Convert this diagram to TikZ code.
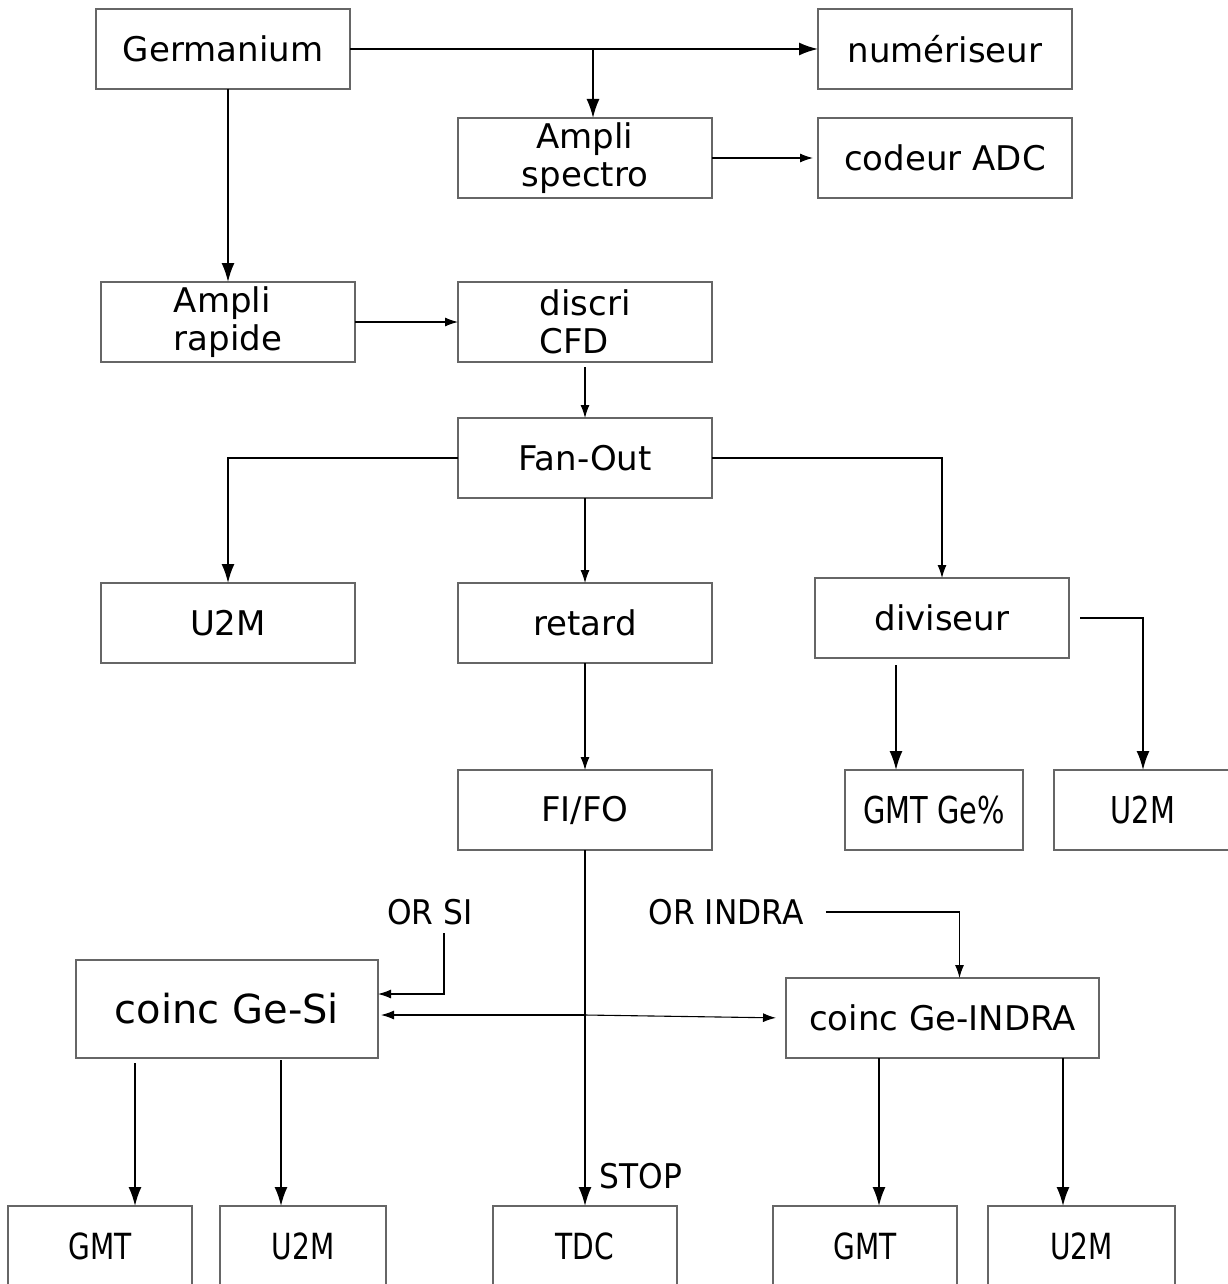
\documentclass[tikz,border=0pt]{standalone}
\usepackage{fontspec}
\setmainfont{DejaVu Sans}
\newfontfamily\condfont{DejaVu Sans}[FakeStretch=0.92]
\newfontfamily\narrowfont{DejaVu Sans}[FakeStretch=0.78]
\usetikzlibrary{arrows.meta,calc}

\begin{document}
\begin{tikzpicture}[x=0.5pt,y=-0.5pt,
  bloc/.style={draw=black!60,line width=0.8pt,inner sep=0pt,outer sep=0pt,minimum width=127pt,minimum height=40pt,font=\fontsize{17}{19}\selectfont},
  bas/.style={bloc,font=\narrowfont\fontsize{18}{20}\selectfont},
  lbl/.style={inner sep=0pt,font=\condfont\fontsize{17}{19}\selectfont},
  fil/.style={line width=0.55pt,-{Latex[length=6.5pt,width=4.5pt]}},
  gros/.style={line width=0.9pt,-{Latex[length=9.5pt,width=6.5pt]}}]
\useasboundingbox (0,0) rectangle (1227,1284);
% chaine germanium
\node[bloc] (germ) at (223,49) {Germanium};
\node[bloc] (numer) at (945,49) {numériseur};
\node[bloc,align=center] (spectro) at (585,158) {Ampli\\spectro};
\node[bloc] (adc) at (945,158) {codeur ADC};
\node[bloc,align=left] (rapide) at (228,322) {Ampli\\rapide};
\node[bloc,align=left] (cfd) at (585,322) {discri\\CFD};
\node[bloc] (fanout) at (585,458) {Fan-Out};
\node[bloc] (u2ma) at (228,623) {U2M};
\node[bloc] (retard) at (585,623) {retard};
\node[bloc] (divis) at (942,618) {diviseur};
\node[bloc] (fifo) at (585,810) {FI/FO};
\node[bas,minimum width=89pt,font=\narrowfont\fontsize{18.5}{20}\selectfont] (gmtge) at (934,810) {GMT Ge\%};
\node[bas,minimum width=89pt,font=\narrowfont\fontsize{18.5}{20}\selectfont] (u2mb) at (1143,810) {U2M};
% coincidences
\node[lbl] (orsi) at (430,912) {OR SI};
\node[lbl] (orin) at (726,912) {OR INDRA};
\node[bloc,minimum width=151pt,minimum height=49pt,font=\fontsize{20}{22}\selectfont] (coincsi) at (227,1009) {coinc Ge-Si};
\node[bloc,minimum width=156.5pt] (coincin) at (942.5,1018) {coinc Ge-INDRA};
\node[lbl] (stop) at (641,1176) {STOP};
\node[bas,minimum width=92pt] (gmta) at (100,1246) {GMT};
\node[bas,minimum width=83pt] (u2mc) at (303,1246) {U2M};
\node[bas,minimum width=92pt] (tdc) at (585,1246) {TDC};
\node[bas,minimum width=92pt] (gmtb) at (865,1246) {GMT};
\node[bas,minimum width=93.5pt] (u2md) at (1081.5,1246) {U2M};
\coordinate (split) at (585,1015);
% liaisons
\draw[gros] (germ.east) -- (numer.west);
\draw[gros] ([xshift=4pt]spectro.north |- germ.east) -- ([xshift=4pt]spectro.north);
\draw[gros] (rapide.north |- germ.south) -- (rapide.north);
\draw[fil,shorten >=2.5pt] (spectro.east) -- (adc.west);
\draw[fil] (rapide.east) -- (cfd.west);
\draw[fil,shorten <=2.5pt] (cfd.south) -- (fanout.north);
\draw[gros] (fanout.west) -| (u2ma.north);
\draw[fil] (fanout.south) -- (retard.north);
\draw[fil] (fanout.east) -| (divis.north);
\draw[gros,shorten <=5.5pt] (divis.east) -| (u2mb.north);
\draw[gros,shorten <=3.5pt] ($(divis.south)+(-46,0)$) -- ($(gmtge.north)+(-38,0)$);
\draw[fil] (retard.south) -- (fifo.north);
\draw[gros] (fifo.south) -- (tdc.north);
\draw[fil,shorten >=1.5pt] (split) -- (split -| coincsi.east);
\draw[fil,shorten >=5pt] (split) -- (coincin.west);
\draw[fil] ([xshift=7pt,yshift=-4pt]orsi.south) |- ($(coincsi.east)+(0,-15)$);
\draw[fil] ([xshift=11pt]orin.east) -| ($(coincin.north)+(17,0)$);
\draw[gros,shorten <=2.5pt] ($(coincsi.south)+(-92,0)$) -- ($(gmta.north)+(35,0)$);
\draw[gros,shorten <=1pt] ($(coincsi.south)+(54,0)$) -- ($(u2mc.north)+(-22,0)$);
\draw[gros] ($(coincin.south)+(-63.5,0)$) -- ($(gmtb.north)+(14,0)$);
\draw[gros] ($(coincin.south)+(120.5,0)$) -- ($(u2md.north)+(-18.5,0)$);
\end{tikzpicture}
\end{document}
